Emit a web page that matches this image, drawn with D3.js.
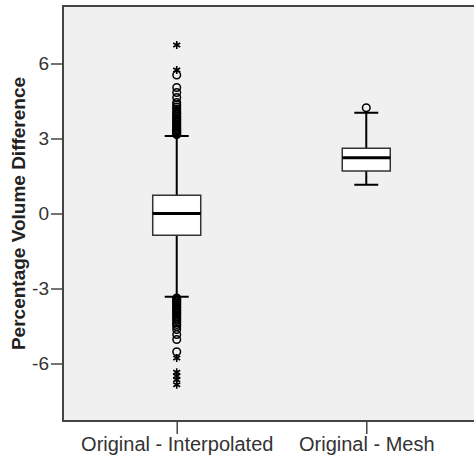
<!DOCTYPE html>
<html>
<head>
<meta charset="utf-8">
<script src="https://cdn.jsdelivr.net/npm/d3@7"></script>
<style>
  body { margin: 0; background: #fff; }
  svg { display: block; font-family: "Liberation Sans", Arial, sans-serif; }
</style>
</head>
<body>
<svg id="chart"></svg>
<script>
// Categories and box statistics
var categories = ["Original - Interpolated", "Original - Mesh"];
var whiskerLow = [-3.33, 1.15];
var q1 = [-0.87, 1.70];
var median = [0.0, 2.23];
var q3 = [0.73, 2.61];
var whiskerHigh = [3.1, 4.03];

// Outliers (circles) and extremes (stars), per category
var outliers = [
  [3.16, 3.2, 3.25, 3.3, 3.35, 3.4, 3.46, 3.52, 3.58, 3.64, 3.7, 3.76, 3.82, 3.88,
   3.95, 4.02, 4.1, 4.18, 4.26, 4.35, 4.44, 4.64, 4.84, 5.04, 5.54,
   -3.38, -3.43, -3.48, -3.53, -3.58, -3.64, -3.7, -3.76, -3.82, -3.88, -3.94,
   -4.0, -4.07, -4.14, -4.21, -4.28, -4.36, -4.44, -4.52, -4.64, -4.84, -5.04, -5.53],
  [4.23]
];
var extremes = [
  [6.74, 5.74, -5.78, -6.35, -6.5, -6.65, -6.85],
  []
];

var yTicks = [-6, -3, 0, 3, 6];

var W = 474, H = 462;
var margin = { top: 6, left: 63, bottom: 41 };

var svg = d3.select("#chart").attr("width", W).attr("height", H);

var x = d3.scalePoint().domain(categories).range([margin.left, 480]).padding(0.6);
var y = d3.scaleLinear().domain([-8.3, 8.3]).range([H - margin.bottom, margin.top]);

// plot background
svg.append("rect")
  .attr("x", margin.left)
  .attr("y", margin.top)
  .attr("width", 480 - margin.left)
  .attr("height", H - margin.bottom - margin.top)
  .attr("fill", "#f0f0f0")
  .attr("stroke", "#444")
  .attr("stroke-width", 2);

// axes
var yAxis = svg.append("g")
  .attr("transform", "translate(" + margin.left + ",0)")
  .call(d3.axisLeft(y).tickValues(yTicks).tickSize(12).tickPadding(2).tickFormat(d3.format("d")));
yAxis.select(".domain").remove();
yAxis.selectAll("line").attr("stroke", "#444").attr("stroke-width", 1.5);
yAxis.selectAll("text").attr("fill", "#333").style("font-size", "19px")
  .text(function(d) { return d < 0 ? "-" + Math.abs(d) : d; });

var xAxis = svg.append("g")
  .attr("transform", "translate(0," + (H - margin.bottom) + ")")
  .call(d3.axisBottom(x).tickSize(13).tickPadding(3));
xAxis.select(".domain").remove();
xAxis.selectAll("line").attr("stroke", "#444").attr("stroke-width", 1.5);
xAxis.selectAll("text").attr("fill", "#333").style("font-size", "20px");

// y title
svg.append("text")
  .attr("transform", "translate(25," + ((margin.top + H - margin.bottom) / 2) + ") rotate(-90)")
  .attr("text-anchor", "middle")
  .attr("fill", "#222")
  .style("font-size", "19px")
  .style("font-weight", "bold")
  .text("Percentage Volume Difference");

var boxW = 48, capW = 24;

var boxes = svg.selectAll(".box").data(categories).enter().append("g").attr("class", "box");

boxes.append("line")
  .attr("x1", function(d) { return x(d); }).attr("x2", function(d) { return x(d); })
  .attr("y1", function(d, i) { return y(whiskerLow[i]); })
  .attr("y2", function(d, i) { return y(whiskerHigh[i]); })
  .attr("stroke", "#000").attr("stroke-width", 2);

boxes.selectAll(".cap")
  .data(function(d, i) { return [[d, whiskerLow[i]], [d, whiskerHigh[i]]]; })
  .enter().append("line")
  .attr("x1", function(d) { return x(d[0]) - capW / 2; })
  .attr("x2", function(d) { return x(d[0]) + capW / 2; })
  .attr("y1", function(d) { return y(d[1]); })
  .attr("y2", function(d) { return y(d[1]); })
  .attr("stroke", "#000").attr("stroke-width", 2);

boxes.append("rect")
  .attr("x", function(d) { return x(d) - boxW / 2; })
  .attr("y", function(d, i) { return y(q3[i]); })
  .attr("width", boxW)
  .attr("height", function(d, i) { return y(q1[i]) - y(q3[i]); })
  .attr("fill", "#fff").attr("stroke", "#333").attr("stroke-width", 1.5);

boxes.append("line")
  .attr("x1", function(d) { return x(d) - boxW / 2; })
  .attr("x2", function(d) { return x(d) + boxW / 2; })
  .attr("y1", function(d, i) { return y(median[i]); })
  .attr("y2", function(d, i) { return y(median[i]); })
  .attr("stroke", "#000").attr("stroke-width", 3);

boxes.selectAll(".outlier")
  .data(function(d, i) { return outliers[i].map(function(v) { return [d, v]; }); })
  .enter().append("circle")
  .attr("cx", function(d) { return x(d[0]); })
  .attr("cy", function(d) { return y(d[1]); })
  .attr("r", 3.8)
  .attr("fill", "none").attr("stroke", "#000").attr("stroke-width", 1.5);

var star = d3.symbol().type(d3.symbolAsterisk).size(45);
boxes.selectAll(".extreme")
  .data(function(d, i) { return extremes[i].map(function(v) { return [d, v]; }); })
  .enter().append("path")
  .attr("d", star)
  .attr("transform", function(d) { return "translate(" + x(d[0]) + "," + y(d[1]) + ")"; })
  .attr("fill", "none").attr("stroke", "#000").attr("stroke-width", 1.6);
</script>
</body>
</html>
